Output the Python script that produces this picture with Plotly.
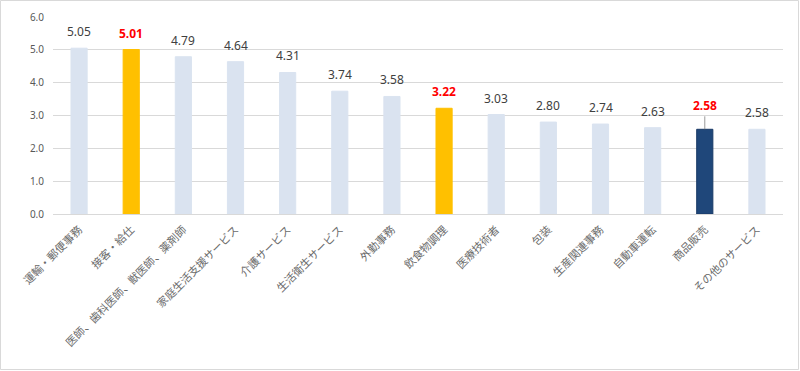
import plotly.graph_objects as go

categories = ["運輸・郵便事務", "接客・給仕", "医師、歯科医師、獣医師、薬剤師", "家庭生活支援サービス",
              "介護サービス", "生活衛生サービス", "外勤事務", "飲食物調理", "医療技術者", "包装",
              "生産関連事務", "自動車運転", "商品販売", "その他のサービス"]
values = [5.05, 5.01, 4.79, 4.64, 4.31, 3.74, 3.58, 3.22, 3.03, 2.80, 2.74, 2.63, 2.58, 2.58]
highlight = ["none", "yellow", "none", "none", "none", "none", "none", "yellow", "none", "none",
             "none", "none", "navy", "none"]
ytick_vals = [0, 1, 2, 3, 4, 5, 6]

color_map = {"none": "#DAE3F0", "yellow": "#FFC000", "navy": "#1F477A"}
bar_colors = [color_map[h] for h in highlight]
line_colors = ["#1A3A66" if h == "navy" else color_map[h] for h in highlight]

fig = go.Figure()
fig.add_trace(go.Bar(
    x=categories, y=values, width=0.31,
    marker=dict(color=bar_colors, line=dict(color=line_colors, width=1)),
    hoverinfo="skip",
))

for i, (c, v, h) in enumerate(zip(categories, values, highlight)):
    red = h != "none"
    font = dict(family="Noto Sans, DejaVu Sans, sans-serif", size=12,
                color="#FF0000" if red else "#404040")
    text = f"<b>{v:.2f}</b>" if red else f"{v:.2f}"
    if h == "navy":
        fig.add_annotation(x=c, y=v, text=text, showarrow=True, arrowhead=0,
                           arrowwidth=0.8, arrowcolor="#7F7F7F", ax=0, ay=-13,
                           font=font, yanchor="bottom", standoff=0)
    else:
        fig.add_annotation(x=c, y=v, text=text, showarrow=False, yanchor="bottom",
                           yshift=6, font=font)

# outer border of chart area
L, R, T, B = 53, 17, 17, 157
W, H = 800, 371
pw, ph = W - L - R, H - T - B
fig.add_shape(type="rect", xref="paper", yref="paper",
              x0=(0.5 - L) / pw, x1=(W - 1.5 - L) / pw,
              y0=(1.5 - B) / ph, y1=(H - B - 0.5) / ph,
              line=dict(color="#D9D9D9", width=1), layer="below")

fig.update_layout(
    width=W, height=H,
    margin=dict(l=L, r=R, t=T, b=B, autoexpand=False),
    paper_bgcolor="white", plot_bgcolor="white",
    showlegend=False,
    font=dict(family="Noto Sans CJK JP, Noto Sans, sans-serif", color="#595959"),
)
fig.update_xaxes(tickangle=-45, tickfont=dict(size=11, color="#6B6B6B",
                 family="Noto Sans CJK JP, sans-serif"),
                 showline=True, linecolor="#D9D9D9", linewidth=1, ticks="",
                 showgrid=False, automargin=False, ticklabelstandoff=4)
fig.update_yaxes(range=[0, 6], tickvals=ytick_vals, tickformat=".1f",
                 tickfont=dict(size=10, color="#595959", family="Noto Sans, sans-serif"),
                 showgrid=True, gridcolor="#D9D9D9", gridwidth=1, zeroline=False,
                 ticks="", ticklabelstandoff=8, automargin=False)

fig.write_html("out.html", config={"displayModeBar": False},
               post_script="document.body.style.margin='0';document.body.style.overflow='hidden';")
